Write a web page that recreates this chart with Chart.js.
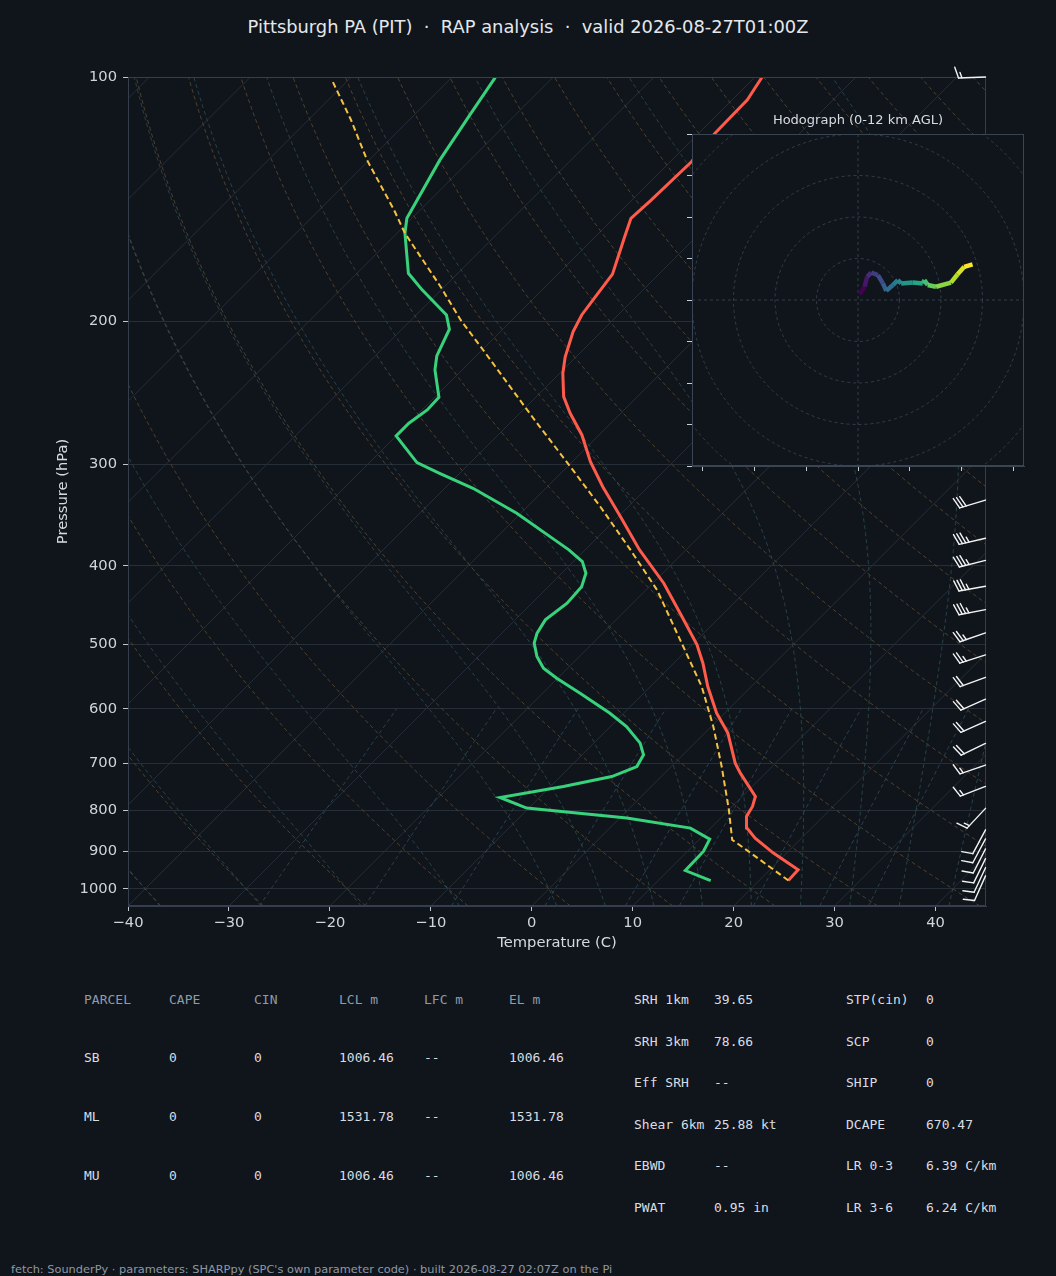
<!DOCTYPE html>
<html><head><meta charset="utf-8">
<script src="https://cdn.jsdelivr.net/npm/chart.js@4.4.1/dist/chart.umd.min.js"></script>
<style>
html,body{margin:0;padding:0;background:#10151b;}
#page{position:relative;width:1056px;height:1276px;overflow:hidden;background:#10151b;font-family:'DejaVu Sans',sans-serif;}
.t{position:absolute;white-space:pre;}
.mono{position:absolute;white-space:pre;font-family:'DejaVu Sans Mono',monospace;font-size:13px;line-height:16px;}
</style></head>
<body><div id="page">
<div class="t" id="title" style="left:0;width:1056px;top:16px;text-align:center;font-size:17.85px;line-height:22px;color:#e4e8ed;"></div>
<canvas id="skew" width="1056" height="960" style="position:absolute;left:0;top:0;"></canvas>
<canvas id="hodo" width="352" height="352" style="position:absolute;left:682px;top:124px;"></canvas>
<div class="t" id="hodoTitle" style="left:692px;width:332px;top:112px;text-align:center;font-size:13px;line-height:16px;color:#d6dbe1;"></div>
<div id="tables"></div>
<div class="t" id="footer" style="left:11px;top:1262px;font-size:11.35px;line-height:14px;color:#8f98a3;"></div>
</div>
<script>
// ---------------- DATA ----------------
const titleText = 'Pittsburgh PA (PIT)  \u00b7  RAP analysis  \u00b7  valid 2026-08-27T01:00Z';
const hodoTitleText = 'Hodograph (0-12 km AGL)';
const footerText = "fetch: SounderPy \u00b7 parameters: SHARPpy (SPC's own parameter code) \u00b7 built 2026-08-27 02:07Z on the Pi";

// Temperature profile (hPa, degC)
const tempP = [976.8, 947.5, 903.7, 866.0, 841.8, 814.4, 791.6, 769.5, 720.3, 700.1, 643.0, 607.5, 563.5, 527.3, 500.6, 462.0, 420.3, 382.4, 347.9, 319.7, 297.8, 276.0, 259.6, 247.6, 231.7, 221.1, 205.9, 196.4, 185.5, 174.9, 157.3, 149.3, 141.8, 127.2, 117.3, 106.7, 100.0];
const tempC = [22.9, 22.8, 18.7, 15.4, 13.6, 12.4, 12.0, 11.3, 7.5, 6.0, 2.3, -0.8, -4.3, -7.1, -9.5, -13.8, -18.9, -24.6, -29.8, -34.5, -38.2, -41.7, -45.0, -47.3, -49.7, -51.1, -52.8, -53.6, -54.1, -54.6, -57.1, -58.3, -58.1, -57.9, -58.4, -58.5, -59.3];

// Dewpoint profile (hPa, degC)
const dewP = [976.8, 949.5, 899.5, 868.5, 841.8, 818.2, 795.4, 771.8, 748.2, 727.3, 707.0, 683.9, 661.5, 631.0, 607.5, 574.1, 550.2, 534.8, 517.5, 498.2, 484.3, 466.4, 444.8, 424.4, 408.6, 395.4, 382.4, 371.7, 344.6, 321.1, 307.7, 298.5, 276.8, 267.0, 257.1, 248.0, 229.5, 220.6, 204.5, 196.4, 182.9, 174.5, 155.8, 149.3, 126.6, 111.4, 100.1];
const dewC = [15.2, 11.7, 11.6, 11.0, 8.0, 0.7, -10.2, -13.9, -8.7, -4.9, -3.4, -3.9, -5.4, -8.4, -11.4, -16.3, -20.1, -22.4, -24.2, -25.8, -26.5, -27.0, -26.5, -26.7, -27.6, -29.1, -31.6, -34.0, -40.4, -47.2, -52.0, -55.3, -60.0, -60.0, -59.5, -59.6, -62.7, -63.9, -65.3, -67.0, -71.9, -74.9, -79.2, -80.5, -83.0, -84.5, -85.7];

// Surface-based parcel trace (hPa, degC)
const parcelP = [976.8, 895.4, 878.5, 870.3, 799.3, 707.0, 631.0, 563.5, 503.0, 428.4, 382.4, 338.1, 302.0, 269.6, 257.1, 216.9, 199.2, 180.9, 155.8, 145.8, 126.6, 112.9, 101.1];
const parcelC = [22.9, 15.7, 14.1, 13.3, 10.0, 5.0, 0.2, -4.9, -10.7, -18.9, -25.5, -32.8, -39.7, -46.7, -49.6, -59.9, -65.1, -70.5, -79.2, -82.6, -90.2, -95.8, -101.5];

// Wind barbs (hPa, knots, direction from in degrees)
const barbP   = [100, 332, 370, 394, 424, 453, 484, 515, 549, 584, 622, 662, 704, 748, 796, 846, 868, 893, 918, 942, 964];
const barbSpd = [15, 30, 35, 35, 35, 35, 25, 25, 20, 20, 20, 20, 15, 15, 15, 10, 10, 10, 10, 10, 10];
const barbDir = [268, 253, 257, 256, 260, 259, 251, 252, 250, 246, 246, 244, 251, 249, 223, 208, 208, 207, 206, 205, 204];

// Hodograph (u, v) 0-12 km
const hodoU = [0.4, 1.6, 2.2, 3.2, 4.8, 6.0, 6.8, 8.4, 9.6, 10.4, 13.2, 15.6, 16.0, 16.8, 18.8, 22.4, 24.0, 25.6, 27.6];
const hodoV = [1.4, 3.2, 5.6, 6.6, 6.0, 4.0, 2.2, 3.6, 4.8, 4.0, 4.2, 4.0, 4.8, 3.6, 3.2, 4.2, 6.2, 8.0, 8.6];

// Axis ticks / reference lines
const pressureTicks = [100, 200, 300, 400, 500, 600, 700, 800, 900, 1000];
const tempTicks = [-40, -30, -20, -10, 0, 10, 20, 30, 40];
const isotherms = [-130, -120, -110, -100, -90, -80, -70, -60, -50, -40, -30, -20, -10, 0, 10, 20, 30, 40];
const dryAdiabatT0 = [-40, -30, -20, -10, 0, 10, 20, 30, 40, 50, 60, 70, 80, 90, 100, 110, 120, 130, 140, 150, 160, 170, 180, 190, 200, 210, 220, 230, 240];
const moistAdiabatT0 = [-40, -30, -20, -10, 0, 5, 10, 15, 20, 25, 30, 35, 40, 45];
const mixingRatios = [0.0004, 0.001, 0.002, 0.004, 0.007, 0.01, 0.016, 0.024, 0.032];
const hodoXTicks = [-37.5, -25, -12.5, 0, 12.5, 25, 37.5];
const hodoYTicks = [-40, -30, -20, -10, 0, 10, 20, 30, 40];
const hodoRings = [10, 20, 30, 40, 50];

// Tables
const parcelHeader = ['PARCEL', 'CAPE', 'CIN', 'LCL m', 'LFC m', 'EL m'];
const parcelNames = ['SB', 'ML', 'MU'];
const parcelCape = ['0', '0', '0'];
const parcelCin = ['0', '0', '0'];
const parcelLcl = ['1006.46', '1531.78', '1006.46'];
const parcelLfc = ['--', '--', '--'];
const parcelEl = ['1006.46', '1531.78', '1006.46'];
const paramLabelsA = ['SRH 1km', 'SRH 3km', 'Eff SRH', 'Shear 6km', 'EBWD', 'PWAT'];
const paramValuesA = ['39.65', '78.66', '--', '25.88 kt', '--', '0.95 in'];
const paramLabelsB = ['STP(cin)', 'SCP', 'SHIP', 'DCAPE', 'LR 0-3', 'LR 3-6'];
const paramValuesB = ['0', '0', '0', '670.47', '6.39 C/km', '6.24 C/km'];

// ---------------- STYLE ----------------
const BG = '#10151b';
const SPINE = '#343e4c';
const GRID = '#262e38';
const TICKTXT = '#d0d5db';
const COL_T = '#ff5b4b', COL_TD = '#38d27c', COL_PAR = '#f5c242';
const viridisStops = ['#440154','#482878','#3e4989','#31688e','#26828e','#1f9e89','#35b779','#6ece58','#b5de2b','#fde725'];

// ---------------- HELPERS ----------------
const P_BOT = 1050, P_TOP = 100;
const SKEW = 80.42; // degC of x-shift per decade of pressure (45-degree isotherms)
function skewX(t, p) { return t + SKEW * Math.log10(P_BOT / p); }
function profile(ps, ts) { return ps.map((p, i) => ({ x: skewX(ts[i], p), y: p })); }
function hexRgb(h) { return [parseInt(h.slice(1,3),16), parseInt(h.slice(3,5),16), parseInt(h.slice(5,7),16)]; }
function viridis(f) {
  f = Math.min(1, Math.max(0, f));
  const n = viridisStops.length - 1;
  const i = Math.min(n - 1, Math.floor(f * n));
  const t = f * n - i;
  const a = hexRgb(viridisStops[i]), b = hexRgb(viridisStops[i + 1]);
  return 'rgb(' + a.map((v, k) => Math.round(v + (b[k] - v) * t)).join(',') + ')';
}
const RD = 287.04749, CPD = 1004.6662, LV = 2.501e6, EPS = 0.62195691;
function moistRate(lnp, T) {
  const p = Math.exp(lnp); const tc = T - 273.15;
  const es = 6.112 * Math.exp(17.67 * tc / (tc + 243.5));
  const rs = EPS * es / (p - es);
  return (RD * T + LV * rs) / (CPD + LV * LV * rs * EPS / (RD * T * T));
}
function moistStep(T, a, b) {
  const n = Math.max(1, Math.ceil(Math.abs(b - a) / 0.01)); const h = (b - a) / n; let x = a;
  for (let i = 0; i < n; i++) {
    const k1 = moistRate(x, T), k2 = moistRate(x + h/2, T + h/2*k1), k3 = moistRate(x + h/2, T + h/2*k2), k4 = moistRate(x + h, T + h*k3);
    T += h / 6 * (k1 + 2*k2 + 2*k3 + k4); x += h;
  }
  return T;
}
function levels(pHigh, pLow, n) { const a = Math.log(pHigh), b = Math.log(pLow), out = []; for (let i = 0; i <= n; i++) out.push(Math.exp(a + (b - a) * i / n)); return out; }

// ---------------- PLUGINS ----------------
const skewBackground = {
  id: 'skewBackground',
  beforeDatasetsDraw(chart) {
    const { ctx, chartArea: ca, scales: { x, y } } = chart;
    const X = (t, p) => x.getPixelForValue(skewX(t, p)), Y = p => y.getPixelForValue(p);
    const curve = pts => { ctx.beginPath(); pts.forEach((q, i) => { const px = X(q[0], q[1]), py = Y(q[1]); if (i) ctx.lineTo(px, py); else ctx.moveTo(px, py); }); ctx.stroke(); };
    ctx.save();
    ctx.beginPath(); ctx.rect(ca.left, ca.top, ca.right - ca.left, ca.bottom - ca.top); ctx.clip();
    // isotherms
    ctx.strokeStyle = GRID; ctx.lineWidth = 1; ctx.setLineDash([]);
    isotherms.forEach(t => curve([[t, P_BOT], [t, P_TOP]]));
    const lv = levels(P_BOT, P_TOP, 80);
    // dry adiabats
    ctx.strokeStyle = '#564630'; ctx.lineWidth = 0.9; ctx.setLineDash([4, 3]);
    dryAdiabatT0.forEach(t0 => curve(lv.map(p => [(t0 + 273.15) * Math.pow(p / 1000, RD / CPD) - 273.15, p])));
    // moist adiabats
    ctx.strokeStyle = '#2a474c';
    moistAdiabatT0.forEach(t0 => {
      const T0 = t0 + 273.15; const pts = [[moistStep(T0, Math.log(1000), Math.log(P_BOT)) - 273.15, P_BOT]];
      let T = T0, prev = Math.log(1000);
      levels(1000, P_TOP, 80).forEach(p => { T = moistStep(T, prev, Math.log(p)); prev = Math.log(p); pts.push([T - 273.15, p]); });
      curve(pts);
    });
    // mixing ratio lines
    ctx.strokeStyle = '#2b4557'; ctx.setLineDash([4, 3]);
    mixingRatios.forEach(w => curve(levels(P_BOT, 600, 20).map(p => { const e = p * w / (EPS + w); const l = Math.log(e / 6.112); return [243.5 * l / (17.67 - l), p]; })));
    ctx.restore();
  },
  afterDatasetsDraw(chart) {
    const { ctx, chartArea: ca } = chart;
    ctx.save(); ctx.strokeStyle = SPINE; ctx.lineWidth = 1; ctx.setLineDash([]);
    ctx.strokeRect(ca.left + 0.5, ca.top + 0.5, ca.right - ca.left - 1, ca.bottom - ca.top - 1);
    ctx.restore();
  }
};

const windBarbs = {
  id: 'windBarbs',
  afterDatasetsDraw(chart) {
    const { ctx, chartArea: ca, scales: { y } } = chart;
    const L = 27, spacing = 0.125 * L, fh = 0.4 * L, fw = 0.25 * L;
    ctx.save(); ctx.strokeStyle = '#f2f3f5'; ctx.fillStyle = '#f2f3f5'; ctx.lineWidth = 1.4; ctx.lineCap = 'round'; ctx.lineJoin = 'round'; ctx.setLineDash([]);
    barbP.forEach((p, i) => {
      const bx = ca.right - 0.5, by = y.getPixelForValue(p);
      const d = barbDir[i] * Math.PI / 180;
      const sx = Math.sin(d), sy = -Math.cos(d), qx = Math.cos(d), qy = Math.sin(d);
      const pt = o => [bx + o * sx, by + o * sy];
      let spd = Math.round(barbSpd[i] / 5) * 5;
      const nf = Math.floor(spd / 50); spd -= nf * 50;
      const nb = Math.floor(spd / 10); spd -= nb * 10;
      const half = spd >= 5;
      ctx.beginPath(); ctx.moveTo(bx, by); const e = pt(L); ctx.lineTo(e[0], e[1]); ctx.stroke();
      let off = L;
      for (let k = 0; k < nf; k++) {
        const a = pt(off), c = pt(off - fw);
        ctx.beginPath(); ctx.moveTo(a[0], a[1]); ctx.lineTo(a[0] + fh * qx - fw / 2 * sx, a[1] + fh * qy - fw / 2 * sy); ctx.lineTo(c[0], c[1]); ctx.closePath(); ctx.fill();
        off -= fw + spacing;
      }
      for (let k = 0; k < nb; k++) {
        const a = pt(off);
        ctx.beginPath(); ctx.moveTo(a[0], a[1]); ctx.lineTo(a[0] + fh * qx + fw / 2 * sx, a[1] + fh * qy + fw / 2 * sy); ctx.stroke();
        off -= spacing;
      }
      if (half) {
        if (off === L) off -= 1.5 * spacing;
        const a = pt(off);
        ctx.beginPath(); ctx.moveTo(a[0], a[1]); ctx.lineTo(a[0] + fh / 2 * qx + fw / 4 * sx, a[1] + fh / 2 * qy + fw / 4 * sy); ctx.stroke();
      }
    });
    ctx.restore();
  }
};

const hodoBackground = {
  id: 'hodoBackground',
  beforeDraw(chart) {
    const { ctx, chartArea: ca } = chart;
    ctx.save(); ctx.fillStyle = BG; ctx.fillRect(ca.left, ca.top, ca.right - ca.left, ca.bottom - ca.top); ctx.restore();
  },
  beforeDatasetsDraw(chart) {
    const { ctx, chartArea: ca, scales: { x, y } } = chart;
    const cx = x.getPixelForValue(0), cy = y.getPixelForValue(0);
    ctx.save(); ctx.beginPath(); ctx.rect(ca.left, ca.top, ca.right - ca.left, ca.bottom - ca.top); ctx.clip();
    ctx.strokeStyle = '#36414f'; ctx.lineWidth = 0.9; ctx.setLineDash([3, 3]);
    hodoRings.forEach(r => { const rad = x.getPixelForValue(r) - cx; ctx.beginPath(); ctx.arc(cx, cy, rad, 0, Math.PI * 2); ctx.stroke(); });
    ctx.beginPath(); ctx.moveTo(ca.left, cy); ctx.lineTo(ca.right, cy); ctx.moveTo(cx, ca.top); ctx.lineTo(cx, ca.bottom); ctx.stroke();
    ctx.restore();
  },
  afterDatasetsDraw(chart) {
    const { ctx, chartArea: ca } = chart;
    ctx.save(); ctx.strokeStyle = '#3a4553'; ctx.lineWidth = 1; ctx.strokeRect(ca.left + 0.5, ca.top + 0.5, ca.right - ca.left - 1, ca.bottom - ca.top - 1); ctx.restore();
  }
};

// ---------------- CHARTS ----------------
Chart.defaults.font.family = "'DejaVu Sans', sans-serif";
Chart.defaults.color = TICKTXT;
const axisFont = { size: 14.7 };

new Chart(document.getElementById('skew'), {
  type: 'scatter',
  data: { datasets: [
    { label: 'Parcel', data: profile(parcelP, parcelC), showLine: true, borderColor: COL_PAR, borderWidth: 2, borderDash: [6, 3.5], pointRadius: 0, fill: false },
    { label: 'Temperature', data: profile(tempP, tempC), showLine: true, borderColor: COL_T, borderWidth: 3, pointRadius: 0, fill: false },
    { label: 'Dewpoint', data: profile(dewP, dewC), showLine: true, borderColor: COL_TD, borderWidth: 3, pointRadius: 0, fill: false }
  ] },
  options: {
    responsive: false, animation: false, devicePixelRatio: window.devicePixelRatio || 1,
    layout: { padding: { left: 0, top: 77, right: 70, bottom: 0 } },
    plugins: { legend: { display: false }, tooltip: { enabled: false }, title: { display: false } },
    scales: {
      x: {
        type: 'linear', min: -40, max: 45, position: 'bottom',
        afterBuildTicks: s => { s.ticks = tempTicks.map(v => ({ value: v })); },
        afterFit: s => { s.height = 54; },
        ticks: { color: TICKTXT, font: axisFont, padding: 3, maxRotation: 0, autoSkip: false, callback: v => v < 0 ? '\u2212' + Math.abs(v) : String(v) },
        grid: { drawOnChartArea: false, drawTicks: true, tickLength: 5, tickColor: '#c0c6ce', color: GRID },
        border: { display: true, color: SPINE },
        title: { display: true, text: 'Temperature (C)', color: '#d5dae0', font: axisFont, padding: { top: 0, bottom: 8 } }
      },
      y: {
        type: 'logarithmic', min: P_TOP, max: P_BOT, reverse: true, position: 'left',
        afterBuildTicks: s => { s.ticks = pressureTicks.map(v => ({ value: v })); },
        afterFit: s => { s.width = 128; },
        ticks: { color: TICKTXT, font: axisFont, padding: 6, autoSkip: false, callback: v => String(v) },
        grid: { color: GRID, lineWidth: 1, drawTicks: true, tickLength: 5, tickColor: '#c0c6ce' },
        border: { display: true, color: SPINE },
        title: { display: true, text: 'Pressure (hPa)', color: '#d5dae0', font: axisFont, padding: { top: 54, bottom: 0 } }
      }
    }
  },
  plugins: [skewBackground, windBarbs]
});

const nH = hodoU.length;
new Chart(document.getElementById('hodo'), {
  type: 'scatter',
  data: { datasets: [{
    data: hodoU.map((u, i) => ({ x: u, y: hodoV[i] })), showLine: true, borderWidth: 4.5, pointRadius: 0,
    borderColor: viridis(0), borderJoinStyle: 'round', borderCapStyle: 'butt',
    segment: { borderColor: c => viridis(c.p0DataIndex / (nH - 2)) }
  }] },
  options: {
    responsive: false, animation: false,
    layout: { padding: { left: 0, top: 10, right: 10, bottom: 0 } },
    plugins: { legend: { display: false }, tooltip: { enabled: false } },
    scales: {
      x: { type: 'linear', min: -40, max: 40,
        afterBuildTicks: s => { s.ticks = hodoXTicks.map(v => ({ value: v })); },
        afterFit: s => { s.height = 10; },
        ticks: { display: false },
        grid: { drawOnChartArea: false, drawTicks: true, tickLength: 5, tickColor: '#c8ced6' },
        border: { display: true, color: '#3a4553' } },
      y: { type: 'linear', min: -40, max: 40,
        afterBuildTicks: s => { s.ticks = hodoYTicks.map(v => ({ value: v })); },
        afterFit: s => { s.width = 10; },
        ticks: { display: false },
        grid: { drawOnChartArea: false, drawTicks: true, tickLength: 5, tickColor: '#c8ced6' },
        border: { display: true, color: '#3a4553' } }
    }
  },
  plugins: [hodoBackground]
});

// ---------------- TEXT ----------------
document.getElementById('title').textContent = titleText;
document.getElementById('hodoTitle').textContent = hodoTitleText;
document.getElementById('footer').textContent = footerText;
const tables = document.getElementById('tables');
function put(txt, x, yc, color) {
  const s = document.createElement('div'); s.className = 'mono'; s.textContent = txt;
  s.style.left = x + 'px'; s.style.top = (yc - 8) + 'px'; s.style.color = color; tables.appendChild(s);
}
const colX = [84, 169, 254, 339, 424, 509];
parcelHeader.forEach((h, i) => put(h, colX[i], 1000, '#8e9bad'));
const rowY = [1058, 1117, 1176];
parcelNames.forEach((n, r) => {
  [n, parcelCape[r], parcelCin[r], parcelLcl[r], parcelLfc[r], parcelEl[r]].forEach((v, i) => put(v, colX[i], rowY[r], '#d8dde4'));
});
const pRowY = [1000, 1041.5, 1083, 1124.5, 1166, 1207.5];
paramLabelsA.forEach((l, r) => {
  put(l, 634, pRowY[r], '#d8dde4'); put(paramValuesA[r], 714, pRowY[r], '#d8dde4');
  put(paramLabelsB[r], 846, pRowY[r], '#d8dde4'); put(paramValuesB[r], 926, pRowY[r], '#d8dde4');
});
</script>
</body></html>
